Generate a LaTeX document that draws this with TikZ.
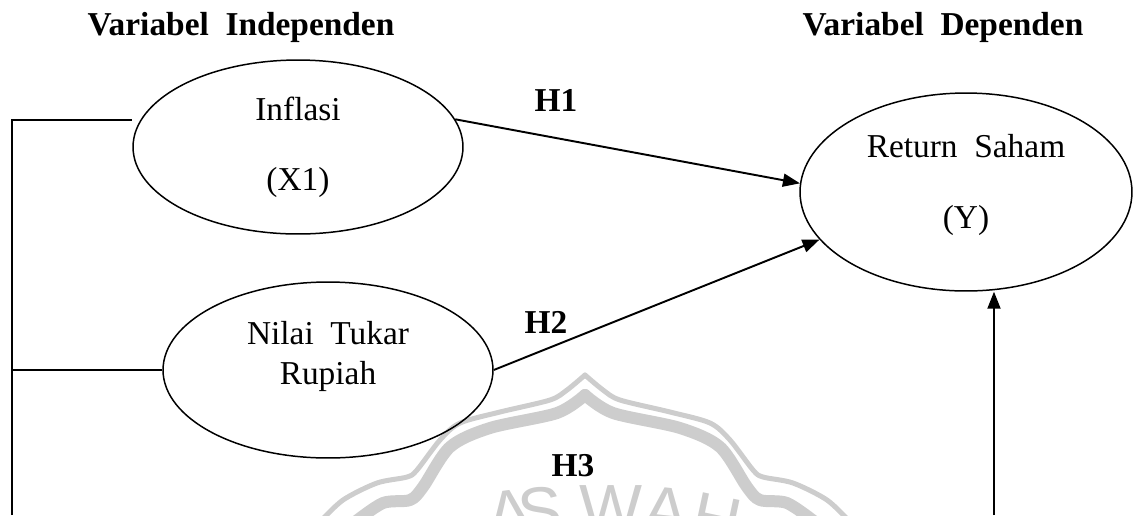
\documentclass[tikz,border=0pt]{standalone}
\usepackage{fontspec}
\setmainfont{Liberation Serif}
\newfontfamily\wmfont{Liberation Sans}
\usetikzlibrary{
  shapes.geometric,
  arrows.meta
}
\definecolor{linecolor}{RGB}{0, 0, 0}
\definecolor{watermarkcolor}{RGB}{205, 205, 205}
\tikzset{
bodytext/.style={
  font=\fontsize{19}{23}\selectfont,
  text=linecolor
},
titlelabel/.style={
  font=\fontsize{19}{23}\selectfont\bfseries,
  text=linecolor,
  anchor=base
},
hlabel/.style={
  font=\fontsize{19}{23}\selectfont\bfseries,
  text=linecolor,
  inner sep=0pt
}
}

\begin{document}
\begin{tikzpicture}[
    x=0.02cm, y=-0.02cm,
    % Estilos dos nós
    varnode/.style={
        ellipse,
        draw=linecolor,
        line width=0.85pt,
        inner sep=0pt,
        align=center,
        bodytext
    },
    wmline/.style={draw=watermarkcolor, line cap=round, line join=round},
    wmletter/.style={
        font=\wmfont\fontsize{38}{38}\selectfont,
        text=watermarkcolor,
        inner sep=0pt,
        anchor=north
    },
    myarrow/.style={-{Triangle[length=3.4mm,width=2.6mm]}, line width=1.1pt, draw=linecolor},
    plainline/.style={line width=1pt, draw=linecolor}
]
\useasboundingbox (0,0) rectangle (1133,515);

% ============================================================================
% Marca d'água (fundo)
% ============================================================================
\begin{scope}[shift={(585,0)}]
\draw[wmline, line width=0.1cm] plot[smooth] coordinates {(0,375) (18,390) (35,400) (85,412) (125,423) (145,440) (168,470) (178,477) (208,483) (242,500) (265,522)};
\draw[wmline, line width=0.24cm] plot[smooth] coordinates {(0,395) (28,413) (95,428) (135,447) (162,487) (175,500) (202,503) (230,522)};
\end{scope}
\begin{scope}[shift={(585,0)}, xscale=-1]
\draw[wmline, line width=0.1cm] plot[smooth] coordinates {(0,375) (18,390) (35,400) (85,412) (125,423) (145,440) (168,470) (178,477) (208,483) (242,500) (265,522)};
\draw[wmline, line width=0.24cm] plot[smooth] coordinates {(0,395) (28,413) (95,428) (135,447) (162,487) (175,500) (202,503) (230,522)};
\end{scope}
\node[wmletter, rotate=8] (wma) at (506,491) {A};
\node[wmletter, rotate=4] (wms) at (538,487) {S};
\node[wmletter] (wmw) at (611,485) {W};
\node[wmletter, rotate=-6] (wmaa) at (668,488) {A};
\node[wmletter, rotate=-12] (wmh) at (722,496) {H};

% ============================================================================
% Títulos
% ============================================================================
\node[titlelabel] (indep) at (241,35) {Variabel\ \ Independen};
\node[titlelabel] (dep) at (943,35) {Variabel\ \ Dependen};

% ============================================================================
% Variáveis
% ============================================================================
\node[varnode, minimum width=6.6cm, minimum height=3.48cm] (infl) at (298,147) {Inflasi\\[0.6cm](X1)};
\node[varnode, minimum width=6.6cm, minimum height=3.52cm, text depth=0.69cm] (nilai) at (328,370) {Nilai\ \ Tukar\\Rupiah};
\node[varnode, minimum width=6.64cm, minimum height=3.96cm, text depth=0.42cm] (ret) at (966,192) {Return\ \ Saham\\[0.6cm](Y)};

% ============================================================================
% Hipóteses
% ============================================================================
\node[hlabel] (h1) at (556,100) {H1};
\node[hlabel] (h2) at (546,322) {H2};
\node[hlabel] (h3) at (573,466) {H3};

% ============================================================================
% Colchete à esquerda
% ============================================================================
\coordinate (brtop) at (12,120);
\coordinate (brbot) at (12,515);
\draw[plainline] (brbot) -- (brtop) -- (brtop -| infl.west);
\draw[plainline] (nilai.west) -- (nilai.west -| brtop);

% ============================================================================
% Setas
% ============================================================================
\draw[myarrow] (infl.10) -- (ret.177);
\draw[myarrow] (nilai.east) -- (ret.198);
\coordinate (h3foot) at (994,515);
\draw[myarrow] (h3foot) -- (h3foot |- ret.south);

\end{tikzpicture}
\end{document}
